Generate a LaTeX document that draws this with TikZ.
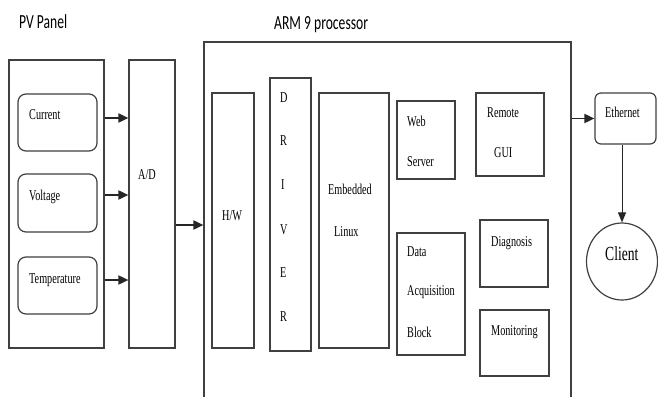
\documentclass[tikz,border=0pt]{standalone}
\usepackage{fontspec}
\setmainfont{Liberation Serif}[FakeStretch=0.68]
\newfontfamily\titlefont{Carlito}[FakeStretch=0.68]
\usetikzlibrary{arrows.meta,shapes.geometric}
\begin{document}
\begin{tikzpicture}[x=1pt,y=-1pt,
  box/.style={draw=black!75, line width=1.2pt, inner sep=0pt, fill=none},
  rbox/.style={box, rounded corners=8pt},
  lbl/.style={inner sep=0pt, anchor=base west, font=\fontsize{15}{18}\selectfont, text=black},
  ttl/.style={inner sep=0pt, anchor=base west, font=\titlefont\fontsize{20}{24}\selectfont, text=black},
  arr/.style={draw=black!85, line width=1.8pt, -{Triangle[length=10pt,width=9pt]}},
  thinarr/.style={draw=black!85, line width=1pt, -{Triangle[length=10pt,width=8pt]}}]
\clip (0,0) rectangle (658,396);
\fill[white] (0,0) rectangle (658,396);

% titles
\node[ttl] (tpv) at (19,29) {PV Panel};
\node[ttl] (tarm) at (274,30) {ARM 9 processor};

% left part
\node[box, minimum width=95, minimum height=288] (pv) at (56.5,204) {};
\node[box, minimum width=46, minimum height=288] (ad) at (152,204) {};
\node[rbox, minimum width=79, minimum height=57] (cur) at (57.5,122.5) {};
\node[rbox, minimum width=79, minimum height=58] (volt) at (57.5,203) {};
\node[rbox, minimum width=79, minimum height=57] (temp) at (57.5,285.5) {};
\node[lbl] (tcur) at (29,119) {Current};
\node[lbl] (tvolt) at (29,200) {Voltage};
\node[lbl] (ttemp) at (29,283) {Temperature};
\node[lbl] (tad) at (138,179) {A/D};

% ARM processor
\node[box, minimum width=367, minimum height=388] (arm) at (387.5,236) {};
\node[box, minimum width=42, minimum height=255] (hw) at (233,220.5) {};
\node[box, minimum width=41, minimum height=273] (drv) at (290.5,214.5) {};
\node[box, minimum width=70, minimum height=255] (lin) at (354,220.5) {};
\node[box, minimum width=58, minimum height=78] (web) at (426,140) {};
\node[box, minimum width=68, minimum height=83] (rgui) at (510,134.5) {};
\node[box, minimum width=68, minimum height=122] (daq) at (431,294) {};
\node[box, minimum width=68, minimum height=67] (diag) at (514,253.5) {};
\node[box, minimum width=69, minimum height=66] (mon) at (514.5,343) {};

\node[lbl] (thw) at (222,220) {H/W};
\node[lbl] (td1) at (280,102) {D};
\node[lbl] (td2) at (280,145) {R};
\node[lbl] (td3) at (281,189) {I};
\node[lbl] (td4) at (280,234) {V};
\node[lbl] (td5) at (280,277) {E};
\node[lbl] (td6) at (280,321) {R};
\node[lbl] (temb) at (328,194) {Embedded};
\node[lbl] (tlin) at (334,236) {Linux};
\node[lbl] (tweb) at (407,126) {Web};
\node[lbl] (tserv) at (407,166) {Server};
\node[lbl] (trem) at (487,117) {Remote};
\node[lbl] (tgui) at (494,157) {GUI};
\node[lbl] (tdata) at (407,256) {Data};
\node[lbl] (tacq) at (407,295) {Acquisition};
\node[lbl] (tblock) at (407,337) {Block};
\node[lbl] (tdiag) at (491,246) {Diagnosis};
\node[lbl] (tmon) at (491,335) {Monitoring};

% right part
\node[box, rounded corners=6pt, minimum width=61, minimum height=51] (eth) at (625.5,118.5) {};
\node[lbl] (teth) at (605,117) {Ethernet};
\node[box, ellipse, minimum width=71, minimum height=77] (client) at (622,261.5) {};
\node[lbl, font=\fontsize{20}{24}\selectfont] (tclient) at (605,260) {Client};

% connectors
\draw[arr] (pv.east |- 0,118) -- (ad.west |- 0,118);
\draw[arr] (pv.east |- 0,195) -- (ad.west |- 0,195);
\draw[arr] (pv.east |- 0,280) -- (ad.west |- 0,280);
\draw[arr] (ad.east |- 0,225) -- (arm.west |- 0,225);
\draw[arr] (arm.east |- eth.west) -- (eth.west);
\draw[thinarr] (client.north |- eth.south) -- (client.north);
\end{tikzpicture}
\end{document}
